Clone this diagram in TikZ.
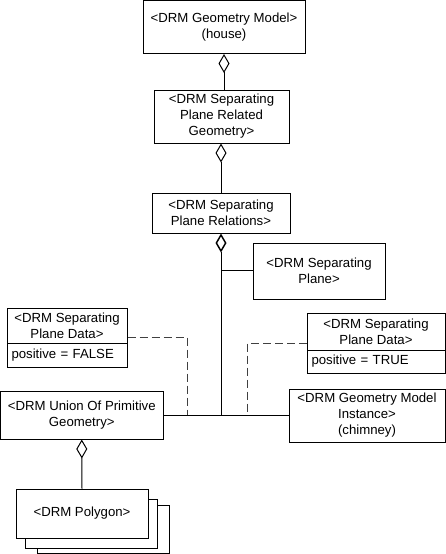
\documentclass[tikz,border=0pt]{standalone}
\usepackage{fontspec}
\setmainfont{Liberation Sans}
\usetikzlibrary{arrows.meta}
\begin{document}
\begin{tikzpicture}[x=0.75pt,y=-0.75pt,
  every node/.style={font=\fontsize{9.9}{12}\selectfont},
  box/.style 2 args={draw=black, line width=0.75pt, fill=white, inner sep=0pt,
     align=center, minimum width=#1*0.75pt, minimum height=#2*0.75pt},
  attr/.style 2 args={draw=black, line width=0.75pt, fill=white, inner sep=3pt,
     align=left, anchor=west, text width=#1*0.75pt-6pt, minimum height=#2*0.75pt},
  conn/.style={draw=black, line width=0.75pt},
  agg/.style={conn, {Diamond[open,length=14.25pt,width=8.25pt,line width=0.75pt]}-},
  aggb/.style={conn, {Diamond[open,length=14.25pt,width=8.25pt,line width=1.1pt]}-},
  dep/.style={draw=black!75, line width=0.75pt, dash pattern=on 6pt off 3pt}]
\useasboundingbox (0,0) rectangle (446,554);

\node[box={162}{53}] (gmod) at (224,27) {<DRM Geometry Model>\\(house)};
\node[box={135}{53}] (sprg) at (221.5,116.5) {<DRM Separating\\Plane Related\\Geometry>};
\node[box={138}{40}] (sprel) at (221,213) {<DRM Separating\\Plane Relations>};
\node[box={132}{56}] (splane) at (319,271) {<DRM Separating\\Plane>};

\node[box={120}{35}] (dlt) at (67,325.5) {<DRM Separating\\Plane Data>};
\node[attr={120}{24}] (dla) at (7,355) {positive = FALSE};
\node[box={138}{37}] (drt) at (376,331.5) {<DRM Separating\\Plane Data>};
\node[attr={138}{23}] (dra) at (307,361.5) {positive = TRUE};

\node[box={162.5}{48}] (union) at (81.75,415) {<DRM Union Of Primitive\\Geometry>};
\node[box={156}{53}] (gmi) at (367,415.5) {<DRM Geometry Model\\Instance>\\(chimney)};

\node[box={132}{48}] (p3) at (103,529) {};
\node[box={132}{49}] (p2) at (91,523.5) {};
\node[box={132}{49}] (poly) at (82,513.5) {<DRM Polygon>};

\coordinate (j) at (221,415);
\coordinate (jsp) at (221,270);
\coordinate (dl1) at (187,337);
\coordinate (dl2) at (187,415);
\coordinate (dr1) at (247,343);
\coordinate (dr2) at (247,415);

\draw[agg] (gmod.south -| 224,0) -- (224,90);
\draw[agg] (sprg.south -| 221,0) -- (sprel.north);
\draw[aggb] (sprel.south) -- (j);
\draw[conn] (jsp) -- (splane.west |- jsp);
\draw[conn] (union.east) -- (gmi.west |- union.east);
\draw[agg] (union.south) -- (poly.north);

\draw[dep] (dlt.east |- dl1) -- (dl1) -- (dl2);
\draw[dep] (drt.west |- dr1) -- (dr1) -- (dr2);
\end{tikzpicture}
\end{document}
